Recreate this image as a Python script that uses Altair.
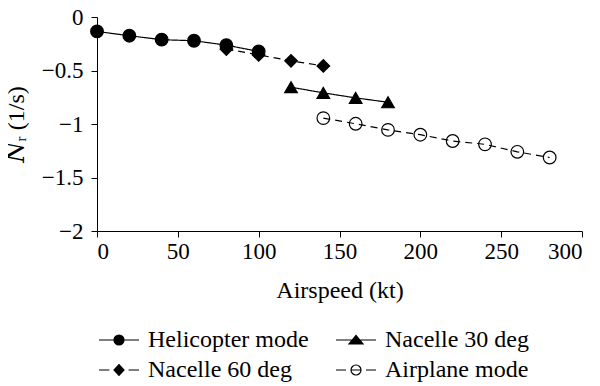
import altair as alt
import pandas as pd

# legend order (Vega lays legend columns out column-major)
series_names = ["Helicopter mode", "Nacelle 60 deg", "Nacelle 30 deg", "Airplane mode"]

heli_x = [0, 20, 40, 60, 80, 100]
heli_y = [-0.135, -0.175, -0.212, -0.222, -0.263, -0.322]

n60_x = [80, 100, 120, 140]
n60_y = [-0.30, -0.354, -0.41, -0.457]

n30_x = [120, 140, 160, 180]
n30_y = [-0.656, -0.709, -0.756, -0.797]

air_x = [140, 160, 180, 200, 220, 240, 260, 280]
air_y = [-0.945, -0.998, -1.055, -1.10, -1.159, -1.19, -1.26, -1.313]

x_ticks = [0, 50, 100, 150, 200, 250, 300]
y_ticks = [0, -0.5, -1, -1.5, -2]

rows = []
for name, xs, ys in [
    ("Helicopter mode", heli_x, heli_y),
    ("Nacelle 60 deg", n60_x, n60_y),
    ("Nacelle 30 deg", n30_x, n30_y),
    ("Airplane mode", air_x, air_y),
]:
    for xv, yv in zip(xs, ys):
        rows.append({"series": name, "x": xv, "y": yv})
df = pd.DataFrame(rows)

FONT = "Liberation Serif, Times New Roman, DejaVu Serif, serif"

# legend symbols: line + marker (1 unit = 10 px at size 400)
legend_paths = [
    "M-2,0H2M0.5,0A0.5,0.5,0,1,1,-0.5,0A0.5,0.5,0,1,1,0.5,0Z",
    "M-2,0H-0.96M0.96,0H2M0,-0.54L0.5,0L0,0.54L-0.5,0Z",
    "M-2,0H2M0,-0.46L0.7,0.4L-0.7,0.4Z",
    "M-2,0H-1M1,0H2M-0.5,0H0.5M0.5,0A0.5,0.5,0,1,1,-0.5,0A0.5,0.5,0,1,1,0.5,0Z",
]

x_enc = alt.X("x:Q", scale=alt.Scale(domain=[0, 300], nice=False),
              axis=alt.Axis(values=x_ticks, title="Airspeed (kt)", grid=False,
                            labelFont=FONT, titleFont=FONT, labelFontSize=23, titleFontSize=24,
                            tickSize=6, labelPadding=3, titlePadding=15))
y_enc = alt.Y("y:Q", scale=alt.Scale(domain=[-2, 0], nice=False),
              axis=alt.Axis(values=y_ticks, format="~g", title="𝑁ᵣ (1/s)", grid=False,
                            labelFont=FONT, titleFont=FONT, labelFontSize=23, titleFontSize=24,
                            tickSize=6, labelPadding=8, titlePadding=13))

lines = alt.Chart(df).mark_line(color="black", strokeWidth=1.2).encode(
    x=x_enc, y=y_enc,
    detail="series:N",
    strokeDash=alt.StrokeDash("series:N", scale=alt.Scale(
        domain=series_names, range=[[1, 0], [7, 5], [1, 0], [7, 5]]), legend=None),
)

points = alt.Chart(df).mark_point(filled=True, stroke="black", strokeWidth=1.2, size=160, opacity=1).encode(
    x=x_enc, y=y_enc,
    shape=alt.Shape("series:N", scale=alt.Scale(
        domain=series_names, range=["circle", "diamond", "triangle-up", "circle"]), legend=None),
    fill=alt.Fill("series:N", scale=alt.Scale(
        domain=series_names, range=["black", "black", "black", "transparent"]), legend=None),
)

def leg():
    return alt.Legend(title=None, orient="none", legendX=10, legendY=311,
                      columns=2, columnPadding=24, rowPadding=6,
                      symbolSize=400, labelOffset=17, labelLimit=400,
                      labelFont=FONT, labelFontSize=24,
                      symbolStrokeWidth=1.2)

legend_layer = alt.Chart(df).transform_filter("false").mark_point(
    filled=True, strokeWidth=1.2, opacity=1
).encode(
    x=x_enc, y=y_enc,
    shape=alt.Shape("series:N", scale=alt.Scale(domain=series_names, range=legend_paths), legend=leg()),
    fill=alt.Fill("series:N", scale=alt.Scale(domain=series_names,
                                                range=["black", "black", "black", "white"]), legend=leg()),
    stroke=alt.Stroke("series:N", scale=alt.Scale(domain=series_names,
                                                    range=["black", "black", "black", "black"]), legend=leg()),
)

chart = alt.layer(lines, points, legend_layer).resolve_scale(
    shape="independent", fill="independent", stroke="independent"
).properties(
    width=485, height=214,
    autosize=alt.AutoSizeParams(type="none"),
    padding={"left": 89, "top": 9, "right": 10, "bottom": 155},
).configure(
    font=FONT,
    style={"guide-label": {"font": FONT}, "guide-title": {"font": FONT}},
).configure_view(stroke=None).configure_axis(
    labelFont=FONT, titleFont=FONT,
    labelColor="black", titleColor="black", domainColor="black", tickColor="black",
    titleFontWeight="normal", domainWidth=1, tickWidth=1,
).configure_legend(
    labelColor="black", labelFont=FONT,
)

chart.save("out.html", embed_options={"renderer": "svg", "actions": False})
